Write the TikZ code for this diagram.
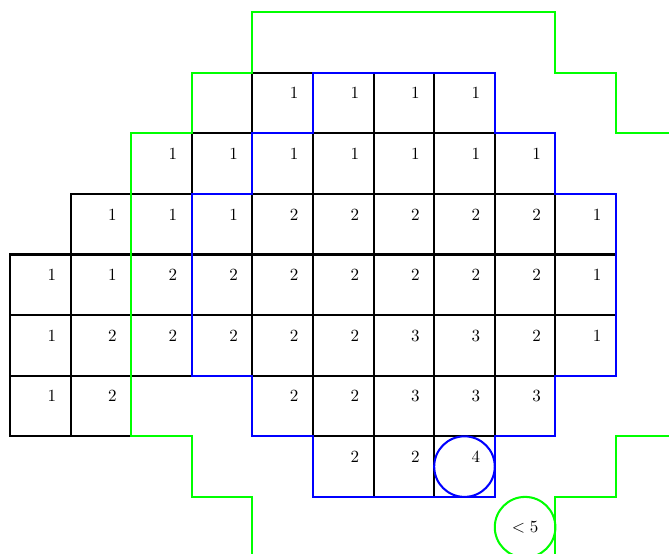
\documentclass[tikz,border=0pt]{standalone}
\usepackage{amsmath, amssymb}
\usepackage{xcolor}
\usepackage{tikz}
\usetikzlibrary{calc, positioning}

\tikzset{
    cell/.style={draw=black, very thick},
    num/.style={inner sep=0pt, anchor=center},
    blueline/.style={draw=blue, very thick},
    greenline/.style={draw=green, very thick}
}

\begin{document}
\begin{tikzpicture}[x=1.25cm, y=1.25cm]
    \useasboundingbox (-0.165,0.058) rectangle (10.875,9.2);

    % Các ô và số
    \foreach \x/\y/\n in {4/7/1,5/7/1,6/7/1,7/7/1,
        2/6/1,3/6/1,4/6/1,5/6/1,6/6/1,7/6/1,8/6/1,
        1/5/1,2/5/1,3/5/1,4/5/2,5/5/2,6/5/2,7/5/2,8/5/2,9/5/1,
        0/4/1,1/4/1,2/4/2,3/4/2,4/4/2,5/4/2,6/4/2,7/4/2,8/4/2,9/4/1,
        0/3/1,1/3/2,2/3/2,3/3/2,4/3/2,5/3/2,6/3/3,7/3/3,8/3/2,9/3/1,
        0/2/1,1/2/2,4/2/2,5/2/2,6/2/3,7/2/3,8/2/3,
        5/1/2,6/1/2,7/1/4} {
        \draw[cell] (\x,\y) rectangle ++(1,1);
        \node[num] (n-\x-\y) at (\x+0.69,\y+0.66) {\n};
    }

    % Đường viền xanh dương
    \draw[blueline] (5,8) -- (8,8) -- (8,7) -- (9,7) -- (9,6) -- (10,6)
        -- (10,3) -- (9,3) -- (9,2) -- (8,2) -- (8,1) -- (5,1) -- (5,2)
        -- (4,2) -- (4,3) -- (3,3) -- (3,6) -- (4,6) -- (4,7) -- (5,7) -- cycle;
    \node[blueline, circle, minimum size=1.25cm, inner sep=0pt] (c-four) at (7.5,1.5) {};

    % Đường viền xanh lá
    \draw[greenline] (4,0) -- (4,1) -- (3,1) -- (3,2) -- (2,2) -- (2,7)
        -- (3,7) -- (3,8) -- (4,8) -- (4,9) -- (9,9) -- (9,8) -- (10,8)
        -- (10,7) -- (10.875,7);
    \draw[greenline] (10.875,2) -- (10,2) -- (10,1) -- (9,1) -- (9,0);
    \node[greenline, circle, minimum size=1.25cm, inner sep=0pt] (c-five) at (8.5,0.5) {$<5$};
\end{tikzpicture}
\end{document}
